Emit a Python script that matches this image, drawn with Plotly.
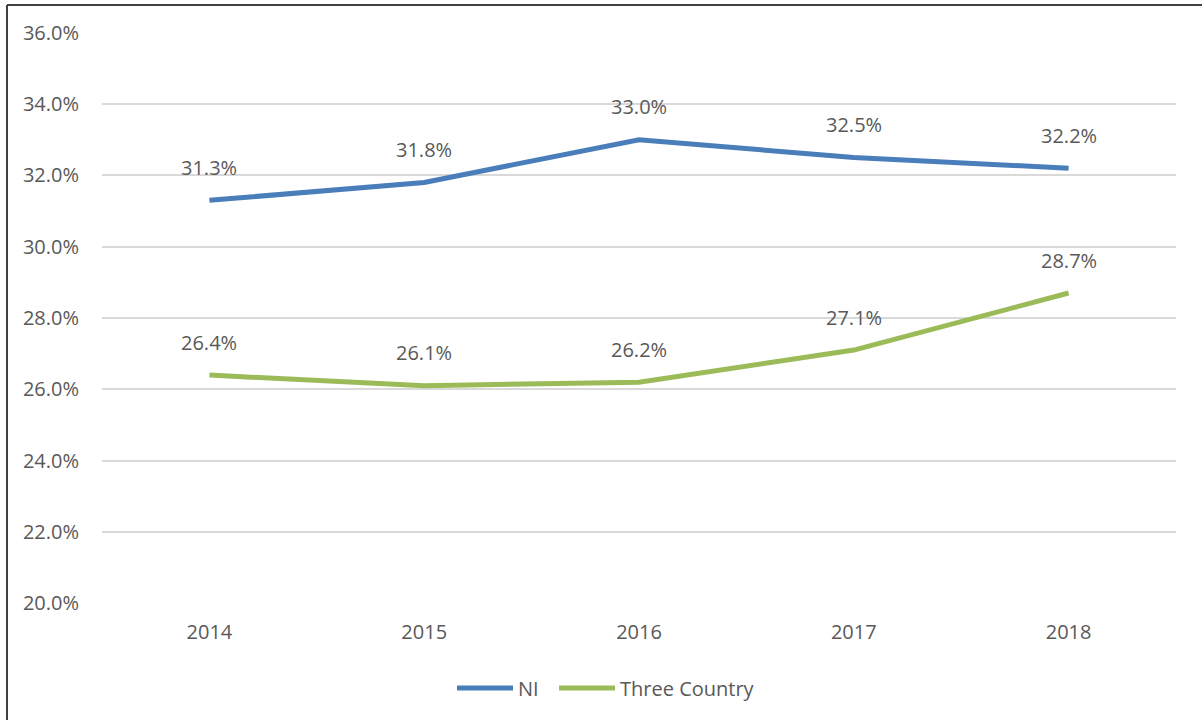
import plotly.graph_objects as go

years = ["2014", "2015", "2016", "2017", "2018"]
ni = [0.313, 0.318, 0.330, 0.325, 0.322]
three_country = [0.264, 0.261, 0.262, 0.271, 0.287]

FONT = "Open Sans"
TXT = "#595959"
BLUE = "#4a7ebb"
GREEN = "#9bbb59"

fig = go.Figure()
fig.add_trace(go.Scatter(x=years, y=ni, mode="lines", name="NI\u00a0\u00a0",
                         line=dict(color=BLUE, width=5)))
fig.add_trace(go.Scatter(x=years, y=three_country, mode="lines", name="Three Country",
                         line=dict(color=GREEN, width=5)))

annotations = []
for series in (ni, three_country):
    for i, v in enumerate(series):
        annotations.append(dict(x=i, y=v, xref="x", yref="y", text=f"{v*100:.1f}%",
                                showarrow=False, yanchor="middle", yshift=33,
                                font=dict(family=FONT, size=20, color=TXT)))

W, H = 1202, 720
L, R, T, B = 102, 26, 32, 116
pw, ph = W - L - R, H - T - B
bx = (7 - L) / pw
by = 1 + (T - 5) / ph

fig.update_layout(
    width=W, height=H,
    margin=dict(l=L, r=R, t=T, b=B, pad=0),
    paper_bgcolor="white", plot_bgcolor="white",
    font=dict(family=FONT, size=20, color=TXT),
    showlegend=True,
    legend=dict(orientation="h", x=(452 - L) / pw, xanchor="left", y=(604 - 688) / ph,
                yanchor="middle", font=dict(family=FONT, size=20, color=TXT),
                itemwidth=56),
    annotations=annotations,
    shapes=[
        dict(type="line", xref="paper", yref="paper", x0=bx, x1=1.2, y0=by, y1=by,
             line=dict(color="#404040", width=2)),
        dict(type="line", xref="paper", yref="paper", x0=bx, x1=bx, y0=by, y1=-0.3,
             line=dict(color="#404040", width=2)),
    ],
    xaxis=dict(type="category", range=[-0.5, 4.5], showgrid=False, zeroline=False,
               showline=False, ticks="", ticklabelstandoff=14,
               tickfont=dict(family=FONT, size=20, color=TXT)),
    yaxis=dict(range=[0.1998, 0.3602], dtick=0.02, tickformat=".1%", showgrid=True,
               gridcolor="#d9d9d9", gridwidth=2, zeroline=False, showline=False,
               ticks="", ticklabelstandoff=22,
               tickfont=dict(family=FONT, size=20, color=TXT)),
)

fig.write_html("out.html")
